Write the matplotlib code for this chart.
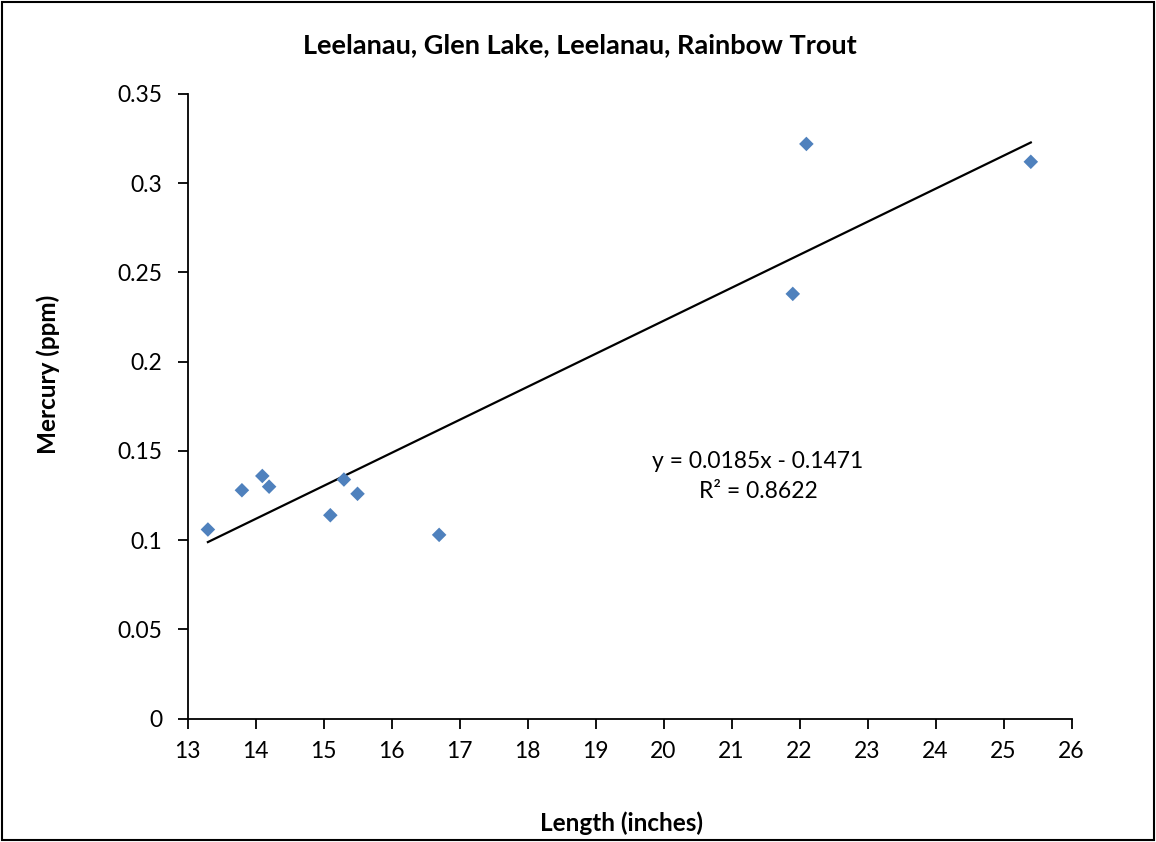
import numpy as np
import matplotlib
matplotlib.use('Agg')
import matplotlib.pyplot as plt
from matplotlib.patches import Rectangle

plt.rcParams['font.family'] = ['Lato', 'DejaVu Sans']

# data
length_in = [13.3, 13.8, 14.1, 14.2, 15.1, 15.3, 15.5, 16.7, 21.9, 22.1, 25.4]
mercury_ppm = [0.106, 0.128, 0.136, 0.130, 0.114, 0.134, 0.126, 0.103, 0.238, 0.322, 0.312]

title = 'Leelanau, Glen Lake, Leelanau, Rainbow Trout'
eq_text = 'y = 0.0185x - 0.1471\nR² = 0.8622'

x = np.array(length_in)
y = np.array(mercury_ppm)
slope, intercept = np.polyfit(x, y, 1)

fig = plt.figure(figsize=(11.56, 8.42), dpi=100)
ax = fig.add_axes([0.1622, 0.1464, 0.7648, 0.742])

# linear trendline over the data range
xs = np.array([x.min(), x.max()])
ax.plot(xs, slope * xs + intercept, color='black', lw=1.6, zorder=2)
ax.scatter(x, y, marker='D', s=55, color='#4F81BD', edgecolors='none', zorder=3)

ax.set_xlim(13, 26)
ax.set_ylim(0, 0.35)
ax.set_xticks(np.arange(13, 27, 1))
ax.set_yticks(np.arange(0, 0.351, 0.05))
ax.set_yticklabels(['0', '0.05', '0.1', '0.15', '0.2', '0.25', '0.3', '0.35'])
ax.tick_params(direction='out', length=7, width=1.3, labelsize=16.5)
ax.tick_params(axis='y', pad=11)
ax.tick_params(axis='x', pad=9)
for side in ['top', 'right']:
    ax.spines[side].set_visible(False)
for side in ['left', 'bottom']:
    ax.spines[side].set_linewidth(1.3)

ax.text(21.39, 0.1358, eq_text, ha='center', va='center', fontsize=16.5, linespacing=1.5)

fig.text(0.502, 0.946, title, ha='center', va='center', fontsize=19.5, fontweight='bold')
fig.text(0.538, 0.022, 'Length (inches)', ha='center', va='center', fontsize=17.5, fontweight='bold')
fig.text(0.042, 0.555, 'Mercury (ppm)', ha='center', va='center', rotation=90,
         fontsize=17.5, fontweight='bold')

fig.patches.append(Rectangle((0.002, 0.002), 0.996, 0.996, transform=fig.transFigure,
                             fill=False, edgecolor='black', lw=1.5))

fig.savefig('out.png', dpi=100)
